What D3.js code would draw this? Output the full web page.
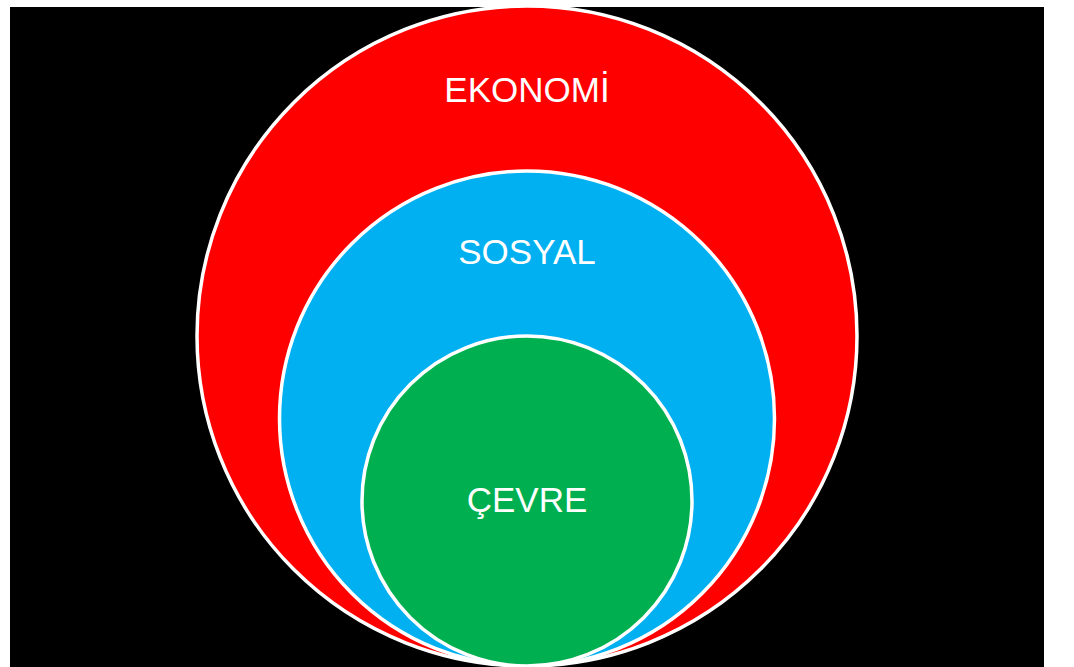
<!DOCTYPE html>
<html>
<head>
<meta charset="utf-8">
<script src="https://cdn.jsdelivr.net/npm/d3@7"></script>
<style>
  html, body { margin: 0; padding: 0; background: #fff; }
  svg { display: block; }
</style>
</head>
<body>
<script>
// nested circles, outermost first
const labels = ['EKONOMİ', 'SOSYAL', 'ÇEVRE'];
const sizes = [100, 75, 50];
const colors = ['#ff0000', '#00b0f0', '#00b050'];

const width = 1074;
const height = 667;
const cx = 527;
const bottom = 666;

const rScale = d3.scaleLinear()
    .domain([0, 100])
    .range([0, 330]);

const svg = d3.select('body')
  .append('svg')
    .attr('width', width)
    .attr('height', height);

// black backdrop
svg.append('rect')
    .attr('x', 10)
    .attr('y', 7)
    .attr('width', 1034)
    .attr('height', height - 7)
    .attr('fill', '#000');

const rings = labels.map((l, i) => ({ label: l, size: sizes[i], color: colors[i] }));

svg.selectAll('circle.ring')
  .data(rings)
  .enter()
  .append('circle')
    .attr('class', 'ring')
    .attr('cx', cx)
    .attr('cy', d => bottom - rScale(d.size))
    .attr('r', d => rScale(d.size))
    .attr('fill', d => d.color)
    .attr('stroke', '#fff')
    .attr('stroke-width', 3.5);

// labels: near the top of the outer rings, centred in the innermost one
svg.selectAll('text.label')
  .data(rings)
  .enter()
  .append('text')
    .attr('class', 'label')
    .attr('x', cx)
    .attr('y', (d, i) => i === rings.length - 1
      ? bottom - rScale(d.size) + 11
      : bottom - 2 * rScale(d.size) + 96 - i * 3)
    .attr('text-anchor', 'middle')
    .attr('fill', '#fff')
    .style('font-family', 'Liberation Sans, Arial, sans-serif')
    .style('font-size', '35px')
    .text(d => d.label);
</script>
</body>
</html>
